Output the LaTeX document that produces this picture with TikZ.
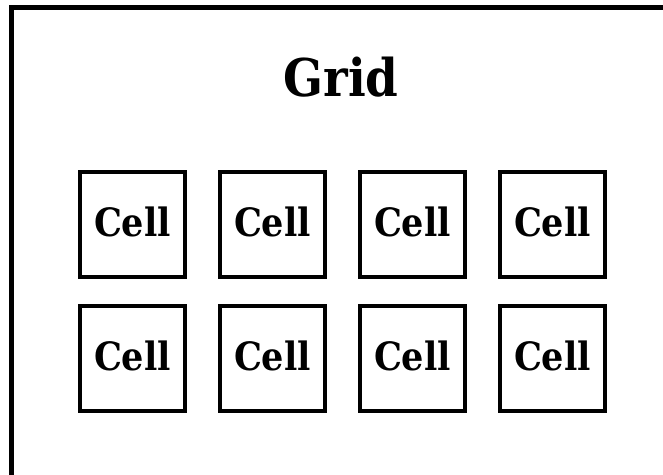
\documentclass[tikz,border=0pt]{standalone}
\usepackage{fontspec}
\setmainfont{DejaVu Serif Condensed}
\usetikzlibrary{positioning}
\tikzset{
  frame/.style={draw=black,line width=5pt},
  cellbox/.style={draw=black,line width=4pt,minimum size=105pt,inner sep=0pt,
                  text depth=5pt,font=\fontsize{39}{44}\selectfont\bfseries},
  title/.style={font=\fontsize{52}{60}\selectfont\bfseries,inner sep=0pt}
}
\begin{document}
\begin{tikzpicture}[x=1pt,y=-1pt]
    \clip (0,0) rectangle (663,474);
    \path[use as bounding box] (0,0) rectangle (663,474);

    \draw[frame] (11.5,7.5) rectangle (700,520);
    \node[title,anchor=base] (grid) at (341,96) {Grid};

    % two rows of four cells
    \foreach \r/\y in {1/224.5,2/358.5}{
      \foreach \c/\x in {1/132.5,2/272.5,3/412.5,4/552.5}{
        \node[cellbox] (cell\r\c) at (\x,\y) {Cell};
      }
    }
  \end{tikzpicture}
\end{document}
